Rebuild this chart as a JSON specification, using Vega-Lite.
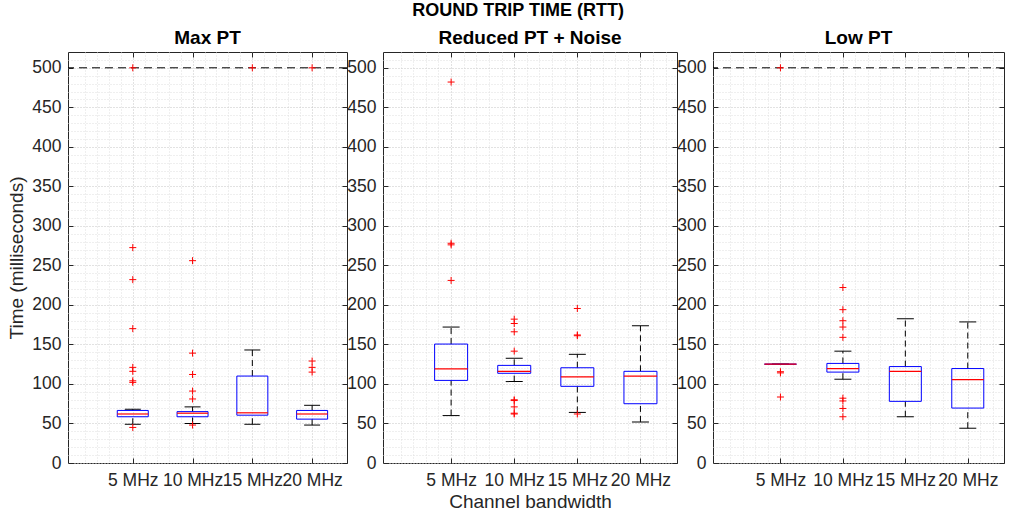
{
  "$schema": "https://vega.github.io/schema/vega-lite/v6.json",
  "padding": {"left": 7, "top": 2, "right": 0, "bottom": 0},
  "background": "white",
  "title": {"text": "ROUND TRIP TIME (RTT)", "fontSize": 18, "fontWeight": "bold", "font": "Liberation Sans", "color": "black", "anchor": "middle", "offset": 8, "dx": 12},
  "datasets": {
    "stats": [
      {"panel": "Max PT", "pos": 1, "lower": 49, "q1": 58.5, "median": 62, "q3": 66.5, "upper": 68},
      {"panel": "Max PT", "pos": 2, "lower": 50, "q1": 58.5, "median": 63, "q3": 65, "upper": 71},
      {"panel": "Max PT", "pos": 3, "lower": 49, "q1": 60.5, "median": 63.5, "q3": 110, "upper": 143},
      {"panel": "Max PT", "pos": 4, "lower": 48, "q1": 55.5, "median": 62, "q3": 66.5, "upper": 73},
      {"panel": "Reduced PT + Noise", "pos": 1, "lower": 60, "q1": 104.5, "median": 119, "q3": 150.5, "upper": 172},
      {"panel": "Reduced PT + Noise", "pos": 2, "lower": 103, "q1": 113.5, "median": 116, "q3": 123.5, "upper": 132.5},
      {"panel": "Reduced PT + Noise", "pos": 3, "lower": 64, "q1": 97, "median": 109, "q3": 120.5, "upper": 137.5},
      {"panel": "Reduced PT + Noise", "pos": 4, "lower": 52, "q1": 75, "median": 110, "q3": 116, "upper": 173.5},
      {"panel": "Low PT", "pos": 1, "lower": 125, "q1": 125, "median": 125, "q3": 125, "upper": 125},
      {"panel": "Low PT", "pos": 2, "lower": 106, "q1": 115, "median": 119.5, "q3": 126, "upper": 141.5},
      {"panel": "Low PT", "pos": 3, "lower": 58.5, "q1": 78, "median": 116, "q3": 122, "upper": 182.5},
      {"panel": "Low PT", "pos": 4, "lower": 44, "q1": 69.5, "median": 105.5, "q3": 119.5, "upper": 178.5}
    ],
    "outliers": [
      {"panel": "Max PT", "pos": 1, "value": 500},
      {"panel": "Max PT", "pos": 1, "value": 272.5},
      {"panel": "Max PT", "pos": 1, "value": 232},
      {"panel": "Max PT", "pos": 1, "value": 170},
      {"panel": "Max PT", "pos": 1, "value": 121},
      {"panel": "Max PT", "pos": 1, "value": 116},
      {"panel": "Max PT", "pos": 1, "value": 104},
      {"panel": "Max PT", "pos": 1, "value": 102},
      {"panel": "Max PT", "pos": 1, "value": 45},
      {"panel": "Max PT", "pos": 2, "value": 256},
      {"panel": "Max PT", "pos": 2, "value": 139},
      {"panel": "Max PT", "pos": 2, "value": 112},
      {"panel": "Max PT", "pos": 2, "value": 91},
      {"panel": "Max PT", "pos": 2, "value": 81},
      {"panel": "Max PT", "pos": 2, "value": 48},
      {"panel": "Max PT", "pos": 3, "value": 500},
      {"panel": "Max PT", "pos": 4, "value": 500},
      {"panel": "Max PT", "pos": 4, "value": 129},
      {"panel": "Max PT", "pos": 4, "value": 121},
      {"panel": "Max PT", "pos": 4, "value": 115},
      {"panel": "Reduced PT + Noise", "pos": 1, "value": 482},
      {"panel": "Reduced PT + Noise", "pos": 1, "value": 278},
      {"panel": "Reduced PT + Noise", "pos": 1, "value": 276},
      {"panel": "Reduced PT + Noise", "pos": 1, "value": 231},
      {"panel": "Reduced PT + Noise", "pos": 2, "value": 182},
      {"panel": "Reduced PT + Noise", "pos": 2, "value": 176.5},
      {"panel": "Reduced PT + Noise", "pos": 2, "value": 166},
      {"panel": "Reduced PT + Noise", "pos": 2, "value": 141.5},
      {"panel": "Reduced PT + Noise", "pos": 2, "value": 80},
      {"panel": "Reduced PT + Noise", "pos": 2, "value": 79},
      {"panel": "Reduced PT + Noise", "pos": 2, "value": 71},
      {"panel": "Reduced PT + Noise", "pos": 2, "value": 63},
      {"panel": "Reduced PT + Noise", "pos": 2, "value": 62},
      {"panel": "Reduced PT + Noise", "pos": 3, "value": 195.5},
      {"panel": "Reduced PT + Noise", "pos": 3, "value": 162},
      {"panel": "Reduced PT + Noise", "pos": 3, "value": 161},
      {"panel": "Reduced PT + Noise", "pos": 3, "value": 62},
      {"panel": "Low PT", "pos": 1, "value": 500},
      {"panel": "Low PT", "pos": 1, "value": 115.5},
      {"panel": "Low PT", "pos": 1, "value": 114},
      {"panel": "Low PT", "pos": 1, "value": 83.5},
      {"panel": "Low PT", "pos": 2, "value": 222},
      {"panel": "Low PT", "pos": 2, "value": 194},
      {"panel": "Low PT", "pos": 2, "value": 180},
      {"panel": "Low PT", "pos": 2, "value": 172},
      {"panel": "Low PT", "pos": 2, "value": 159},
      {"panel": "Low PT", "pos": 2, "value": 82},
      {"panel": "Low PT", "pos": 2, "value": 78.5},
      {"panel": "Low PT", "pos": 2, "value": 69},
      {"panel": "Low PT", "pos": 2, "value": 58.5}
    ],
    "ref": [{"limit": 500}]
  },
  "spacing": -2,
  "hconcat": [
    {
      "width": 279, "height": 411,
      "title": {"text": "Max PT"},
      "resolve": {"axis": {"x": "independent", "y": "independent"}},
      "layer": [
        {
          "data": {"name": "ref"},
          "mark": {"type": "rule", "strokeDash": [8, 5], "color": "black", "strokeWidth": 1},
          "encoding": {"y": {"field": "limit", "type": "quantitative", "scale": {"domain": [0, 520], "nice": false}, "axis": null}}
        },
        {
          "data": {"name": "stats"},
          "transform": [{"filter": "datum.panel === 'Max PT'"}],
          "mark": {"type": "rule", "strokeDash": [6, 4], "color": "black", "strokeWidth": 1},
          "encoding": {
            "x": {"field": "pos", "type": "quantitative", "scale": {"domain": [0, 4.5], "nice": false, "zero": false},
                  "axis": {"orient": "top", "values": [1, 2, 3, 4], "labels": false, "tickSize": -5, "tickColor": "#262626", "domain": false, "grid": false, "title": null}},
            "y": {"field": "q3", "type": "quantitative", "scale": {"domain": [0, 520], "nice": false},
                  "axis": {"orient": "right", "values": [0, 50, 100, 150, 200, 250, 300, 350, 400, 450, 500], "labels": false, "tickSize": -5, "tickColor": "#262626", "domain": false, "grid": false, "title": null}},
            "y2": {"field": "upper"}
          }
        },
        {
          "data": {"name": "stats"},
          "transform": [{"filter": "datum.panel === 'Max PT'"}],
          "mark": {"type": "rule", "strokeDash": [6, 4], "color": "black", "strokeWidth": 1},
          "encoding": {
            "x": {"field": "pos", "type": "quantitative", "scale": {"domain": [0, 4.5], "nice": false, "zero": false}, "axis": null},
            "y": {"field": "lower", "type": "quantitative", "scale": {"domain": [0, 520], "nice": false}, "axis": null},
            "y2": {"field": "q1"}
          }
        },
        {
          "data": {"name": "stats"},
          "transform": [{"filter": "datum.panel === 'Max PT'"}],
          "mark": {"type": "tick", "orient": "horizontal", "size": 16, "thickness": 1, "color": "black", "opacity": 1},
          "encoding": {
            "x": {"field": "pos", "type": "quantitative", "scale": {"domain": [0, 4.5], "nice": false, "zero": false}, "axis": null},
            "y": {"field": "upper", "type": "quantitative", "scale": {"domain": [0, 520], "nice": false}, "axis": null}
          }
        },
        {
          "data": {"name": "stats"},
          "transform": [{"filter": "datum.panel === 'Max PT'"}],
          "mark": {"type": "tick", "orient": "horizontal", "size": 16, "thickness": 1, "color": "black", "opacity": 1},
          "encoding": {
            "x": {"field": "pos", "type": "quantitative", "scale": {"domain": [0, 4.5], "nice": false, "zero": false}, "axis": null},
            "y": {"field": "lower", "type": "quantitative", "scale": {"domain": [0, 520], "nice": false}, "axis": null}
          }
        },
        {
          "data": {"name": "stats"},
          "transform": [{"filter": "datum.panel === 'Max PT'"}],
          "mark": {"type": "bar", "size": 31, "filled": false, "stroke": "#0000ff", "strokeWidth": 1},
          "encoding": {
            "x": {"field": "pos", "type": "quantitative", "scale": {"domain": [0, 4.5], "nice": false, "zero": false},
                  "axis": {"orient": "bottom", "values": [0.2, 0.4, 0.6, 0.8, 1, 1.2, 1.4, 1.6, 1.8, 2, 2.2, 2.4, 2.6, 2.8, 3, 3.2, 3.4, 3.6, 3.8, 4, 4.2, 4.4],
                           "labelExpr": "datum.value === 1 ? '5 MHz' : datum.value === 2 ? '10 MHz' : datum.value === 3 ? '15 MHz' : datum.value === 4 ? '20 MHz' : ''",
                           "labelOverlap": false, "labelFlush": false, "labelPadding": 13, "tickSize": -5, "tickColor": "#262626",
                           "tickOpacity": {"condition": {"test": "datum.value % 1 === 0", "value": 1}, "value": 0},
                           "grid": true, "gridDash": [1, 2],
                           "gridColor": {"condition": {"test": "datum.value % 1 === 0", "value": "#c4c4c4"}, "value": "#dedede"},
                           "domain": false, "title": null}},
            "y": {"field": "q1", "type": "quantitative", "scale": {"domain": [0, 520], "nice": false},
                  "axis": {"orient": "left", "values": [0, 10, 20, 30, 40, 50, 60, 70, 80, 90, 100, 110, 120, 130, 140, 150, 160, 170, 180, 190, 200, 210, 220, 230, 240, 250, 260, 270, 280, 290, 300, 310, 320, 330, 340, 350, 360, 370, 380, 390, 400, 410, 420, 430, 440, 450, 460, 470, 480, 490, 500, 510],
                           "labelExpr": "datum.value % 50 === 0 ? datum.label : ''",
                           "labelOverlap": false, "labelPadding": 12, "tickSize": -5, "tickColor": "#262626",
                           "tickOpacity": {"condition": {"test": "datum.value % 50 === 0", "value": 1}, "value": 0},
                           "grid": true, "gridDash": [1, 2],
                           "gridColor": {"condition": {"test": "datum.value % 50 === 0", "value": "#c4c4c4"}, "value": "#dedede"},
                           "domain": false, "title": "Time (milliseconds)", "titlePadding": 5}},
            "y2": {"field": "q3"}
          }
        },
        {
          "data": {"name": "stats"},
          "transform": [{"filter": "datum.panel === 'Max PT'"}],
          "mark": {"type": "tick", "orient": "horizontal", "size": 31, "thickness": 1.2, "color": "#ff0000", "opacity": 1},
          "encoding": {
            "x": {"field": "pos", "type": "quantitative", "scale": {"domain": [0, 4.5], "nice": false, "zero": false}, "axis": null},
            "y": {"field": "median", "type": "quantitative", "scale": {"domain": [0, 520], "nice": false}, "axis": null}
          }
        },
        {
          "data": {"name": "outliers"},
          "transform": [{"filter": "datum.panel === 'Max PT'"}],
          "mark": {"type": "point", "shape": "M-1,0L1,0M0,-1L0,1", "size": 49, "filled": false, "stroke": "#ff0000", "strokeWidth": 1, "opacity": 1},
          "encoding": {
            "x": {"field": "pos", "type": "quantitative", "scale": {"domain": [0, 4.5], "nice": false, "zero": false}, "axis": null},
            "y": {"field": "value", "type": "quantitative", "scale": {"domain": [0, 520], "nice": false}, "axis": null}
          }
        }
      ]
    },
    {
      "width": 294, "height": 411,
      "title": {"text": "Reduced PT + Noise"},
      "resolve": {"axis": {"x": "independent", "y": "independent"}},
      "layer": [
        {
          "data": {"name": "stats"},
          "transform": [{"filter": "datum.panel === 'Reduced PT + Noise'"}],
          "mark": {"type": "rule", "strokeDash": [6, 4], "color": "black", "strokeWidth": 1},
          "encoding": {
            "x": {"field": "pos", "type": "quantitative", "scale": {"domain": [0, 4.5], "nice": false, "zero": false},
                  "axis": {"orient": "top", "values": [1, 2, 3, 4], "labels": false, "tickSize": -5, "tickColor": "#262626", "domain": false, "grid": false, "title": null}},
            "y": {"field": "q3", "type": "quantitative", "scale": {"domain": [0, 520], "nice": false},
                  "axis": {"orient": "right", "values": [0, 50, 100, 150, 200, 250, 300, 350, 400, 450, 500], "labels": false, "tickSize": -5, "tickColor": "#262626", "domain": false, "grid": false, "title": null}},
            "y2": {"field": "upper"}
          }
        },
        {
          "data": {"name": "stats"},
          "transform": [{"filter": "datum.panel === 'Reduced PT + Noise'"}],
          "mark": {"type": "rule", "strokeDash": [6, 4], "color": "black", "strokeWidth": 1},
          "encoding": {
            "x": {"field": "pos", "type": "quantitative", "scale": {"domain": [0, 4.5], "nice": false, "zero": false}, "axis": null},
            "y": {"field": "lower", "type": "quantitative", "scale": {"domain": [0, 520], "nice": false}, "axis": null},
            "y2": {"field": "q1"}
          }
        },
        {
          "data": {"name": "stats"},
          "transform": [{"filter": "datum.panel === 'Reduced PT + Noise'"}],
          "mark": {"type": "tick", "orient": "horizontal", "size": 17, "thickness": 1, "color": "black", "opacity": 1},
          "encoding": {
            "x": {"field": "pos", "type": "quantitative", "scale": {"domain": [0, 4.5], "nice": false, "zero": false}, "axis": null},
            "y": {"field": "upper", "type": "quantitative", "scale": {"domain": [0, 520], "nice": false}, "axis": null}
          }
        },
        {
          "data": {"name": "stats"},
          "transform": [{"filter": "datum.panel === 'Reduced PT + Noise'"}],
          "mark": {"type": "tick", "orient": "horizontal", "size": 17, "thickness": 1, "color": "black", "opacity": 1},
          "encoding": {
            "x": {"field": "pos", "type": "quantitative", "scale": {"domain": [0, 4.5], "nice": false, "zero": false}, "axis": null},
            "y": {"field": "lower", "type": "quantitative", "scale": {"domain": [0, 520], "nice": false}, "axis": null}
          }
        },
        {
          "data": {"name": "stats"},
          "transform": [{"filter": "datum.panel === 'Reduced PT + Noise'"}],
          "mark": {"type": "bar", "size": 33, "filled": false, "stroke": "#0000ff", "strokeWidth": 1},
          "encoding": {
            "x": {"field": "pos", "type": "quantitative", "scale": {"domain": [0, 4.5], "nice": false, "zero": false},
                  "axis": {"orient": "bottom", "values": [0.2, 0.4, 0.6, 0.8, 1, 1.2, 1.4, 1.6, 1.8, 2, 2.2, 2.4, 2.6, 2.8, 3, 3.2, 3.4, 3.6, 3.8, 4, 4.2, 4.4],
                           "labelExpr": "datum.value === 1 ? '5 MHz' : datum.value === 2 ? '10 MHz' : datum.value === 3 ? '15 MHz' : datum.value === 4 ? '20 MHz' : ''",
                           "labelOverlap": false, "labelFlush": false, "labelPadding": 13, "tickSize": -5, "tickColor": "#262626",
                           "tickOpacity": {"condition": {"test": "datum.value % 1 === 0", "value": 1}, "value": 0},
                           "grid": true, "gridDash": [1, 2],
                           "gridColor": {"condition": {"test": "datum.value % 1 === 0", "value": "#c4c4c4"}, "value": "#dedede"},
                           "domain": false, "title": "Channel bandwidth", "titlePadding": 4}},
            "y": {"field": "q1", "type": "quantitative", "scale": {"domain": [0, 520], "nice": false},
                  "axis": {"orient": "left", "values": [0, 10, 20, 30, 40, 50, 60, 70, 80, 90, 100, 110, 120, 130, 140, 150, 160, 170, 180, 190, 200, 210, 220, 230, 240, 250, 260, 270, 280, 290, 300, 310, 320, 330, 340, 350, 360, 370, 380, 390, 400, 410, 420, 430, 440, 450, 460, 470, 480, 490, 500, 510],
                           "labelExpr": "datum.value % 50 === 0 ? datum.label : ''",
                           "labelOverlap": false, "labelPadding": 12, "tickSize": -5, "tickColor": "#262626",
                           "tickOpacity": {"condition": {"test": "datum.value % 50 === 0", "value": 1}, "value": 0},
                           "grid": true, "gridDash": [1, 2],
                           "gridColor": {"condition": {"test": "datum.value % 50 === 0", "value": "#c4c4c4"}, "value": "#dedede"},
                           "domain": false, "title": null}},
            "y2": {"field": "q3"}
          }
        },
        {
          "data": {"name": "stats"},
          "transform": [{"filter": "datum.panel === 'Reduced PT + Noise'"}],
          "mark": {"type": "tick", "orient": "horizontal", "size": 33, "thickness": 1.2, "color": "#ff0000", "opacity": 1},
          "encoding": {
            "x": {"field": "pos", "type": "quantitative", "scale": {"domain": [0, 4.5], "nice": false, "zero": false}, "axis": null},
            "y": {"field": "median", "type": "quantitative", "scale": {"domain": [0, 520], "nice": false}, "axis": null}
          }
        },
        {
          "data": {"name": "outliers"},
          "transform": [{"filter": "datum.panel === 'Reduced PT + Noise'"}],
          "mark": {"type": "point", "shape": "M-1,0L1,0M0,-1L0,1", "size": 49, "filled": false, "stroke": "#ff0000", "strokeWidth": 1, "opacity": 1},
          "encoding": {
            "x": {"field": "pos", "type": "quantitative", "scale": {"domain": [0, 4.5], "nice": false, "zero": false}, "axis": null},
            "y": {"field": "value", "type": "quantitative", "scale": {"domain": [0, 520], "nice": false}, "axis": null}
          }
        }
      ]
    },
    {
      "width": 291, "height": 411,
      "title": {"text": "Low PT"},
      "resolve": {"axis": {"x": "independent", "y": "independent"}},
      "layer": [
        {
          "data": {"name": "ref"},
          "mark": {"type": "rule", "strokeDash": [8, 5], "color": "black", "strokeWidth": 1},
          "encoding": {"y": {"field": "limit", "type": "quantitative", "scale": {"domain": [0, 520], "nice": false}, "axis": null}}
        },
        {
          "data": {"name": "stats"},
          "transform": [{"filter": "datum.panel === 'Low PT'"}],
          "mark": {"type": "rule", "strokeDash": [6, 4], "color": "black", "strokeWidth": 1},
          "encoding": {
            "x": {"field": "pos", "type": "quantitative", "scale": {"domain": [0, 4.5], "nice": false, "zero": false},
                  "axis": {"orient": "top", "values": [1, 2, 3, 4], "labels": false, "tickSize": -5, "tickColor": "#262626", "domain": false, "grid": false, "title": null}},
            "y": {"field": "q3", "type": "quantitative", "scale": {"domain": [0, 520], "nice": false},
                  "axis": {"orient": "right", "values": [0, 50, 100, 150, 200, 250, 300, 350, 400, 450, 500], "labels": false, "tickSize": -5, "tickColor": "#262626", "domain": false, "grid": false, "title": null}},
            "y2": {"field": "upper"}
          }
        },
        {
          "data": {"name": "stats"},
          "transform": [{"filter": "datum.panel === 'Low PT'"}],
          "mark": {"type": "rule", "strokeDash": [6, 4], "color": "black", "strokeWidth": 1},
          "encoding": {
            "x": {"field": "pos", "type": "quantitative", "scale": {"domain": [0, 4.5], "nice": false, "zero": false}, "axis": null},
            "y": {"field": "lower", "type": "quantitative", "scale": {"domain": [0, 520], "nice": false}, "axis": null},
            "y2": {"field": "q1"}
          }
        },
        {
          "data": {"name": "stats"},
          "transform": [{"filter": "datum.panel === 'Low PT'"}],
          "mark": {"type": "tick", "orient": "horizontal", "size": 17, "thickness": 1, "color": "black", "opacity": 1},
          "encoding": {
            "x": {"field": "pos", "type": "quantitative", "scale": {"domain": [0, 4.5], "nice": false, "zero": false}, "axis": null},
            "y": {"field": "upper", "type": "quantitative", "scale": {"domain": [0, 520], "nice": false}, "axis": null}
          }
        },
        {
          "data": {"name": "stats"},
          "transform": [{"filter": "datum.panel === 'Low PT'"}],
          "mark": {"type": "tick", "orient": "horizontal", "size": 17, "thickness": 1, "color": "black", "opacity": 1},
          "encoding": {
            "x": {"field": "pos", "type": "quantitative", "scale": {"domain": [0, 4.5], "nice": false, "zero": false}, "axis": null},
            "y": {"field": "lower", "type": "quantitative", "scale": {"domain": [0, 520], "nice": false}, "axis": null}
          }
        },
        {
          "data": {"name": "stats"},
          "transform": [{"filter": "datum.panel === 'Low PT'"}],
          "mark": {"type": "bar", "size": 32, "filled": false, "stroke": "#0000ff", "strokeWidth": 1},
          "encoding": {
            "x": {"field": "pos", "type": "quantitative", "scale": {"domain": [0, 4.5], "nice": false, "zero": false},
                  "axis": {"orient": "bottom", "values": [0.2, 0.4, 0.6, 0.8, 1, 1.2, 1.4, 1.6, 1.8, 2, 2.2, 2.4, 2.6, 2.8, 3, 3.2, 3.4, 3.6, 3.8, 4, 4.2, 4.4],
                           "labelExpr": "datum.value === 1 ? '5 MHz' : datum.value === 2 ? '10 MHz' : datum.value === 3 ? '15 MHz' : datum.value === 4 ? '20 MHz' : ''",
                           "labelOverlap": false, "labelFlush": false, "labelPadding": 13, "tickSize": -5, "tickColor": "#262626",
                           "tickOpacity": {"condition": {"test": "datum.value % 1 === 0", "value": 1}, "value": 0},
                           "grid": true, "gridDash": [1, 2],
                           "gridColor": {"condition": {"test": "datum.value % 1 === 0", "value": "#c4c4c4"}, "value": "#dedede"},
                           "domain": false, "title": null}},
            "y": {"field": "q1", "type": "quantitative", "scale": {"domain": [0, 520], "nice": false},
                  "axis": {"orient": "left", "values": [0, 10, 20, 30, 40, 50, 60, 70, 80, 90, 100, 110, 120, 130, 140, 150, 160, 170, 180, 190, 200, 210, 220, 230, 240, 250, 260, 270, 280, 290, 300, 310, 320, 330, 340, 350, 360, 370, 380, 390, 400, 410, 420, 430, 440, 450, 460, 470, 480, 490, 500, 510],
                           "labelExpr": "datum.value % 50 === 0 ? datum.label : ''",
                           "labelOverlap": false, "labelPadding": 12, "tickSize": -5, "tickColor": "#262626",
                           "tickOpacity": {"condition": {"test": "datum.value % 50 === 0", "value": 1}, "value": 0},
                           "grid": true, "gridDash": [1, 2],
                           "gridColor": {"condition": {"test": "datum.value % 50 === 0", "value": "#c4c4c4"}, "value": "#dedede"},
                           "domain": false, "title": null}},
            "y2": {"field": "q3"}
          }
        },
        {
          "data": {"name": "stats"},
          "transform": [{"filter": "datum.panel === 'Low PT'"}],
          "mark": {"type": "tick", "orient": "horizontal", "size": 32, "thickness": 1.2, "color": "#ff0000", "opacity": 1},
          "encoding": {
            "x": {"field": "pos", "type": "quantitative", "scale": {"domain": [0, 4.5], "nice": false, "zero": false}, "axis": null},
            "y": {"field": "median", "type": "quantitative", "scale": {"domain": [0, 520], "nice": false}, "axis": null}
          }
        },
        {
          "data": {"name": "outliers"},
          "transform": [{"filter": "datum.panel === 'Low PT'"}],
          "mark": {"type": "point", "shape": "M-1,0L1,0M0,-1L0,1", "size": 49, "filled": false, "stroke": "#ff0000", "strokeWidth": 1, "opacity": 1},
          "encoding": {
            "x": {"field": "pos", "type": "quantitative", "scale": {"domain": [0, 4.5], "nice": false, "zero": false}, "axis": null},
            "y": {"field": "value", "type": "quantitative", "scale": {"domain": [0, 520], "nice": false}, "axis": null}
          }
        }
      ]
    }
  ],
  "config": {
    "font": "Liberation Sans",
    "view": {"stroke": "#262626", "strokeWidth": 1},
    "axis": {"labelFont": "Liberation Sans", "labelFontSize": 17.5, "labelColor": "#262626", "titleFont": "Liberation Sans", "titleFontSize": 19, "titleFontWeight": "normal", "titleColor": "#262626"},
    "title": {"font": "Liberation Sans", "fontSize": 19, "fontWeight": "bold", "color": "black", "offset": 3}
  }
}
